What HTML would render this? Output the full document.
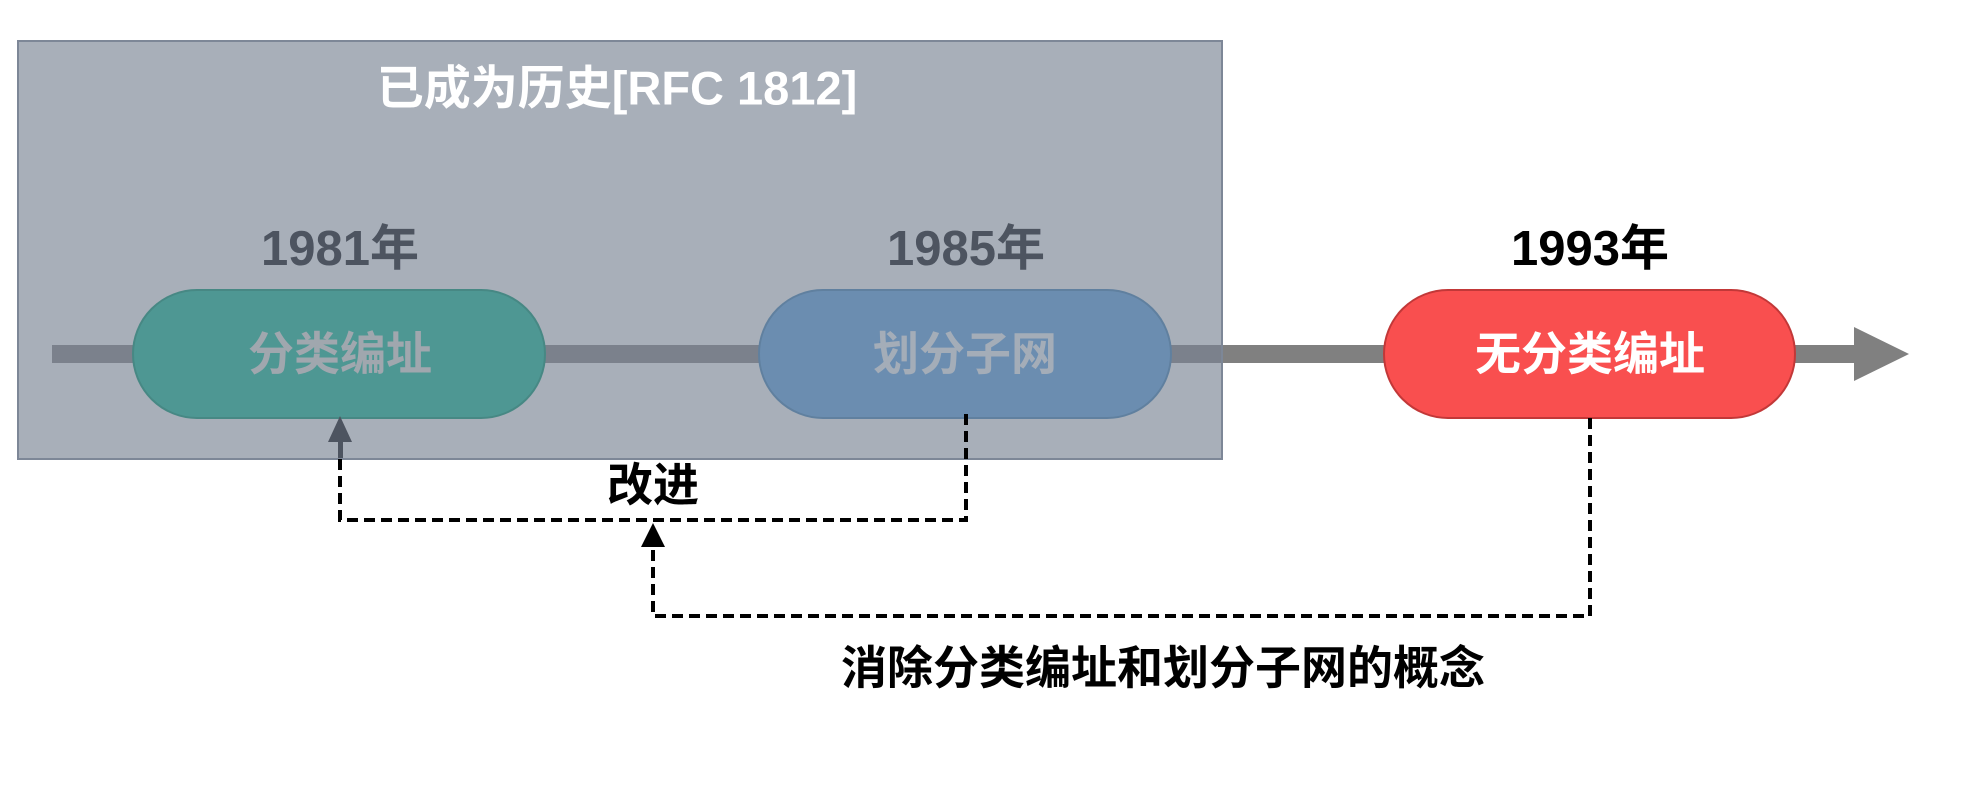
<!DOCTYPE html>
<html><head><meta charset="utf-8"><style>
html,body{margin:0;padding:0;background:#fff;width:1974px;height:785px;overflow:hidden}
svg text{font-family:"Liberation Sans","Noto Sans CJK SC",sans-serif;font-weight:bold;text-anchor:middle;dominant-baseline:central}
</style></head><body>
<svg width="1974" height="785" viewBox="0 0 1974 785" xmlns="http://www.w3.org/2000/svg">
<rect x="52" y="345" width="1810" height="18" fill="#808080"/>
<polygon points="1854,327 1909,354 1854,381" fill="#808080"/>
<rect x="18" y="41" width="1204" height="418" fill="#a8afb9" stroke="#7d8797" stroke-width="2"/>
<rect x="52" y="345" width="1169" height="18" fill="#7b818c"/>
<text x="617" y="88" font-size="47" fill="#ffffff">已成为历史[RFC 1812]</text>
<rect x="133" y="290" width="412" height="128" rx="64" fill="#4e9793" stroke="#478884" stroke-width="2"/>
<text x="340" y="354" font-size="46" fill="#a0a7ae">分类编址</text>
<rect x="759" y="290" width="412" height="128" rx="64" fill="#6b8db0" stroke="#60809f" stroke-width="2"/>
<text x="965" y="354" font-size="46" fill="#a4adb8">划分子网</text>
<rect x="1384" y="290" width="411" height="128" rx="64" fill="#f94f4f" stroke="#c23838" stroke-width="2"/>
<text x="1590" y="354" font-size="46" fill="#ffffff">无分类编址</text>
<text x="340" y="249" font-size="49" fill="#4d5460">1981年</text>
<text x="966" y="249" font-size="49" fill="#4d5460">1985年</text>
<text x="1590" y="249" font-size="49" fill="#000">1993年</text>
<g fill="none" stroke="#000" stroke-width="4" stroke-dasharray="11 6">
<polyline points="966,414 966,520 340,520 340,440"/>
<polyline points="1590,418 1590,616 653,616 653,545"/>
</g>
<polygon points="340,416 328,442 352,442" fill="#4d5460"/>
<rect x="338" y="440" width="5" height="18" fill="#4d5460"/>
<polygon points="653,523 641,547 665,547" fill="#000"/>
<text x="653" y="485" font-size="46" fill="#000">改进</text>
<text x="1163" y="668" font-size="46" fill="#000">消除分类编址和划分子网的概念</text>
</svg>
</body></html>
